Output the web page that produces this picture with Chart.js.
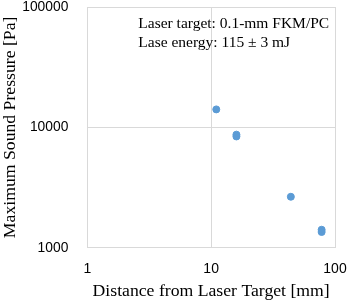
<!DOCTYPE html>
<html><head><meta charset="utf-8">
<script src="https://cdn.jsdelivr.net/npm/chart.js@4/dist/chart.umd.min.js"></script>
<style>html,body{margin:0;padding:0;background:#fff}#wrap{width:350px;height:302px}</style>
</head><body><div id="wrap"><canvas id="c" width="350" height="302"></canvas></div>
<script>
const distances = [11, 16, 16, 44, 78, 78];
const pressures = [14100, 8700, 8400, 2650, 1410, 1350];
const xTicks = [1, 10, 100];
const yTicks = [1000, 10000, 100000];
const notes = ["Laser target: 0.1-mm FKM/PC", "Lase energy: 115 \u00B1 3 mJ"];

const notePlugin = {
  id: 'notes',
  afterDraw(chart) {
    const ctx = chart.ctx, a = chart.chartArea;
    ctx.save();
    ctx.font = '15.5px "Liberation Serif", "Times New Roman", serif';
    ctx.fillStyle = '#000';
    ctx.textBaseline = 'alphabetic';
    ctx.fillText(notes[0], a.left + 51, a.top + 21);
    ctx.fillText(notes[1], a.left + 51, a.top + 40);
    ctx.restore();
  }
};

new Chart(document.getElementById('c'), {
  type: 'scatter',
  data: { datasets: [{
    data: distances.map((d, i) => ({x: d, y: pressures[i]})),
    backgroundColor: '#5b9bd5', borderColor: '#5b9bd5',
    pointRadius: 3.5, pointHoverRadius: 3.5
  }]},
  options: {
    responsive: false, animation: false,
    layout: { padding: 0 },
    plugins: { legend: { display: false }, tooltip: { enabled: false } },
    scales: {
      x: {
        type: 'logarithmic', min: 1, max: 100,
        afterBuildTicks: s => { s.ticks = xTicks.map(v => ({value: v})); },
        afterFit: s => { s.paddingLeft = 0; s.paddingRight = 15; s.height = 54.3; },
        ticks: { color: '#000', font: { family: '"Liberation Sans", Arial, sans-serif', size: 14 }, padding: 13, maxRotation: 0,
                 callback: v => String(v) },
        grid: { color: '#d9d9d9', drawTicks: false, lineWidth: 1 },
        border: { display: false },
        title: { display: true, text: 'Distance from Laser Target [mm]', color: '#000',
                 font: { family: '"Liberation Serif", "Times New Roman", serif', size: 17.7 }, padding: { top: 3, bottom: 0 } }
      },
      y: {
        type: 'logarithmic', min: 1000, max: 100000,
        afterBuildTicks: s => { s.ticks = yTicks.map(v => ({value: v})); },
        afterFit: s => { s.paddingTop = 7; s.paddingBottom = 8; s.width = 87.3; },
        ticks: { color: '#000', font: { family: '"Liberation Sans", Arial, sans-serif', size: 13.8 }, padding: 19,
                 callback: v => String(v) },
        grid: { color: '#d9d9d9', drawTicks: false, lineWidth: 1 },
        border: { display: false },
        title: { display: true, text: 'Maximum Sound Pressure [Pa]', color: '#000',
                 font: { family: '"Liberation Serif", "Times New Roman", serif', size: 17.7 }, padding: { top: 0, bottom: 0 } }
      }
    }
  },
  plugins: [notePlugin]
});
</script></body></html>
